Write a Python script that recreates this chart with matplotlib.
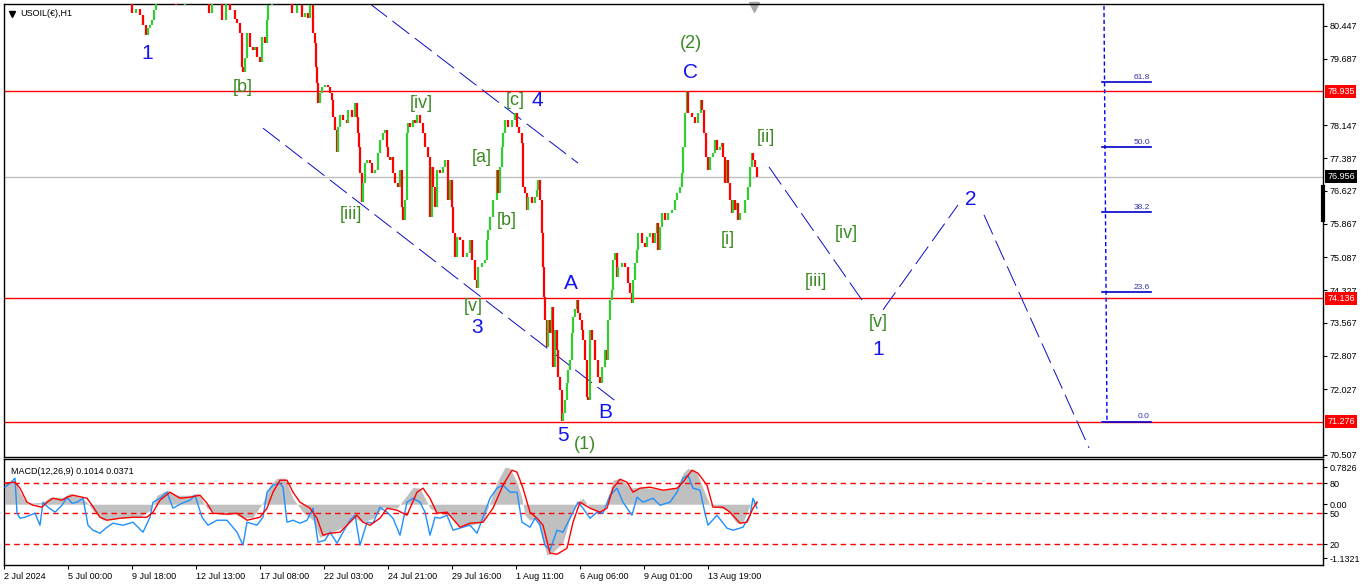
import matplotlib.pyplot as plt
import numpy as np

# ---- price path (H1 bar index, close) ----
bars = [128, 132, 136, 140, 143, 146, 148, 150, 152, 154, 156, 165, 176, 185, 195, 203, 209,
        212, 218, 222, 226, 230, 233, 235, 237, 240, 242, 243, 245, 247, 250, 253, 255, 257, 260,
        262, 265, 267, 268, 272, 280, 288, 292, 297, 302, 305, 308, 310, 313, 315, 316, 317, 318,
        320, 322, 325, 328, 330, 332, 333, 335, 337, 338, 340, 343, 347, 348, 352, 355, 357, 358,
        359, 360, 362, 363, 365, 367, 370, 372, 375, 378, 380, 383, 385, 387, 388, 390, 392, 393,
        395, 398, 400, 402, 403, 405, 407, 408, 410, 413, 415, 417, 420, 423, 425, 428, 430, 432,
        433, 435, 437, 440, 443, 445, 448, 450, 452, 453, 455, 457, 460, 463, 467, 470, 472, 475,
        477, 478, 482, 485, 487, 488, 490, 493, 497, 498, 500, 502, 503, 505, 508, 512, 515, 517,
        519, 522, 523, 525, 527, 528, 532, 535, 537, 538, 540, 542, 543, 544, 545, 547, 548, 550,
        552, 553, 555, 557, 558, 560, 562, 563, 565, 567, 568, 570, 572, 573, 575, 577, 578, 580,
        582, 583, 585, 587, 588, 590, 592, 595, 598, 600, 602, 605, 607, 608, 610, 612, 613, 615,
        617, 618, 622, 625, 628, 630, 632, 633, 635, 637, 638, 642, 645, 647, 650, 653, 655, 657,
        658, 660, 662, 665, 668, 672, 675, 677, 680, 682, 683, 685, 687, 688, 692, 695, 698, 701,
        702, 704, 706, 708, 710, 713, 715, 717, 720, 722, 723, 725, 727, 728, 730, 732, 733, 735,
        737, 738, 740, 742, 745, 748, 750, 752, 753, 755, 757]
closes = [81.20, 80.75, 80.85, 80.70, 80.47, 80.24, 80.40, 80.47, 80.59, 80.82, 81.10, 81.30, 80.93,
          81.20, 81.15, 81.10, 80.75,
          81.00, 81.10, 80.59, 80.95, 80.82, 80.82, 80.60, 80.52, 80.28, 79.50, 79.38, 79.70, 80.28,
          79.96, 79.89, 79.95, 79.73, 79.61,
          80.19, 80.05, 80.59, 80.93, 81.20, 81.30, 81.10, 80.75, 80.93, 80.66, 80.75, 80.63, 80.93,
          80.28, 80.05, 79.50, 79.13, 78.66,
          78.89, 79.03, 79.08, 79.03, 78.89, 78.73, 78.34, 78.04, 77.53, 78.11, 78.38, 78.27, 78.20,
          78.50, 78.34, 78.66, 78.34, 77.97,
          77.64, 77.04, 76.37, 76.81, 77.27, 77.34, 77.27, 77.04, 77.11, 77.50, 77.81, 77.97, 78.04,
          77.64, 77.41, 77.34, 77.41, 77.04,
          76.81, 76.72, 77.11, 76.25, 75.95, 76.42, 77.97, 78.20, 78.11, 78.27, 78.20, 78.38, 78.20,
          77.97, 77.64, 77.41, 76.02, 77.18,
          76.72, 76.25, 77.11, 77.04, 77.18, 77.34, 76.42, 76.88, 76.25, 75.65, 75.09, 75.56, 75.49,
          75.09, 75.19, 75.49, 75.03, 74.56,
          74.38, 74.86, 74.96, 75.03, 75.49, 75.72, 76.02, 76.42, 77.11, 76.58, 77.18, 77.64, 77.97,
          78.27, 78.11, 78.27, 78.43, 78.11,
          77.97, 77.74, 76.72, 76.58, 76.18, 76.48, 76.35, 76.48, 76.65, 76.88, 76.42, 75.65, 74.86,
          74.17, 73.64, 73.01, 73.64, 73.33,
          73.94, 72.55, 73.40, 72.94, 72.31, 72.01, 71.30, 71.48, 71.78, 72.18, 72.48, 72.71, 73.33,
          73.70, 73.90, 74.10, 73.80, 73.64,
          73.40, 73.17, 72.71, 71.85, 71.78, 73.40, 73.17, 72.71, 72.31, 72.18, 72.55, 72.94, 72.71,
          73.64, 74.10, 74.33, 75.03, 75.19,
          74.63, 74.86, 74.96, 74.86, 74.49, 74.26, 74.03, 74.56, 74.96, 75.26, 75.65, 75.42, 75.33,
          75.56, 75.65, 75.42, 75.65, 75.88,
          75.26, 75.79, 76.11, 75.95, 76.11, 76.18, 76.42, 76.58, 76.72, 77.04, 77.64, 78.43, 78.94,
          78.43, 78.34, 78.20, 78.43, 78.73,
          78.50, 77.97, 77.41, 77.11, 77.41, 77.50, 77.81, 77.57, 77.64, 77.74, 77.41, 76.81, 77.34,
          76.81, 76.42, 76.11, 76.42, 76.18,
          76.35, 75.95, 76.11, 76.11, 76.42, 76.72, 77.18, 77.50, 77.34, 77.18, 76.956]

# ---- MACD panel values ----
hist_x = [5, 15, 20, 27, 43, 50, 63, 70, 80, 87, 95, 103, 120, 140, 150, 157, 167, 177, 190, 198,
          207, 217, 233, 243, 253, 263, 270, 277, 285, 293, 303, 313, 320, 330, 343, 353, 363, 373,
          383, 397, 407, 413, 420, 430, 440, 450, 458, 470, 483, 490, 497, 505, 510, 517, 522, 525,
          530, 537, 542, 547, 553, 563, 570, 577, 583, 590, 600, 607, 613, 620, 630, 637, 650, 663,
          677, 683, 688, 697, 703, 710, 717, 727, 737, 743, 750, 757]
hist_vals = [0.463, 0.505, 0.253, 0.021, 0.042, 0.147, 0.147, 0.232, 0.147, 0.042, -0.189, -0.337,
             -0.295, -0.274, -0.126, 0.189, 0.295, 0.189, 0.189, 0.232, -0.084, -0.189, -0.189,
             -0.295, -0.274, 0.042, 0.400, 0.547, 0.547, 0.126, -0.168, -0.337, -0.695, -0.611,
             -0.484, -0.274, -0.379, -0.295, -0.063, -0.084, 0.189, 0.358, 0.337, -0.084, -0.189,
             -0.232, -0.442, -0.442, -0.379, 0.042, 0.463, 0.779, 0.758, 0.463, 0.126, -0.232,
             -0.337, -0.295, -0.716, -1.074, -1.010, -0.800, -0.295, 0.042, 0.126, -0.084, -0.189,
             0.042, 0.505, 0.547, 0.337, 0.358, 0.337, 0.295, 0.358, 0.653, 0.758, 0.653, 0.337,
             -0.021, -0.063, -0.126, -0.400, -0.379, -0.021, 0.101]

sig_x = [5, 15, 20, 27, 33, 42, 47, 53, 62, 67, 73, 87, 92, 100, 107, 120, 133, 147, 153, 160, 170,
         180, 190, 200, 207, 213, 227, 237, 247, 260, 267, 273, 280, 287, 293, 300, 310, 317, 323,
         330, 340, 350, 357, 363, 370, 380, 387, 397, 407, 417, 423, 430, 437, 447, 460, 470, 483,
         493, 503, 512, 517, 523, 530, 537, 543, 550, 557, 567, 573, 580, 590, 600, 607, 613, 620,
         627, 633, 640, 650, 663, 677, 683, 692, 698, 707, 713, 723, 730, 740, 747, 753, 757]
sig_vals = [0.442, 0.463, 0.337, 0.042, -0.021, -0.063, 0.042, 0.126, 0.084, 0.147, 0.189, 0.126,
            -0.021, -0.274, -0.337, -0.295, -0.274, -0.274, -0.168, 0.084, 0.253, 0.126, 0.147,
            0.189, 0.021, -0.189, -0.211, -0.189, -0.337, -0.274, -0.084, 0.253, 0.505, 0.505,
            0.253, 0.042, -0.084, -0.295, -0.653, -0.611, -0.589, -0.379, -0.232, -0.379, -0.442,
            -0.295, -0.084, -0.126, -0.232, 0.253, 0.337, 0.126, -0.189, -0.168, -0.484, -0.400,
            -0.379, -0.084, 0.400, 0.716, 0.674, 0.337, -0.168, -0.295, -0.442, -1.031, -1.053,
            -0.926, -0.379, 0.042, -0.084, -0.168, -0.084, 0.337, 0.526, 0.463, 0.253, 0.337,
            0.358, 0.295, 0.337, 0.463, 0.716, 0.653, 0.400, -0.063, -0.063, -0.168, -0.400,
            -0.379, -0.084, 0.037]

fast_x = [5, 10, 15, 17, 20, 25, 30, 35, 40, 43, 48, 55, 62, 67, 72, 77, 83, 88, 93, 100, 107, 113,
          123, 133, 143, 150, 153, 160, 167, 173, 182, 190, 195, 202, 208, 217, 227, 237, 243, 247,
          257, 263, 267, 273, 280, 283, 287, 293, 300, 307, 313, 318, 325, 330, 337, 343, 350, 355,
          360, 367, 373, 380, 387, 393, 400, 407, 413, 420, 425, 430, 435, 440, 447, 453, 463, 470,
          477, 483, 490, 497, 503, 510, 517, 522, 530, 535, 540, 545, 550, 557, 563, 570, 578, 583,
          590, 597, 603, 610, 617, 623, 632, 637, 643, 653, 660, 670, 677, 683, 688, 693, 700, 705,
          708, 717, 727, 733, 743, 750, 753, 757]
fast_vals = [0.358, 0.442, 0.547, -0.189, -0.295, -0.274, -0.232, -0.189, -0.442, 0.042, -0.063,
             -0.168, -0.021, 0.147, 0.021, 0.042, 0.126, -0.442, -0.547, -0.611, -0.484, -0.400,
             -0.442, -0.379, -0.589, -0.274, 0.042, 0.126, 0.253, -0.084, 0.021, 0.084, 0.189,
             -0.274, -0.442, -0.337, -0.337, -0.589, -0.863, -0.379, -0.442, -0.274, 0.253, 0.400,
             0.442, 0.358, -0.379, -0.337, -0.400, -0.337, -0.084, -0.800, -0.758, -0.589, -0.821,
             -0.589, -0.337, -0.232, -0.863, -0.379, -0.400, -0.063, -0.168, -0.295, -0.653, 0.042,
             0.126, 0.042, -0.168, -0.653, -0.274, -0.295, -0.232, -0.547, -0.484, -0.442, -0.611,
             -0.274, 0.126, 0.337, 0.400, 0.253, 0.253, -0.379, -0.484, -0.295, -0.442, -0.863,
             -0.968, -0.547, -0.589, -0.295, 0.042, -0.084, -0.295, -0.168, -0.189, 0.189, 0.337,
             0.042, -0.232, 0.147, 0.042, 0.126, -0.021, 0.042, 0.253, 0.547, 0.611, 0.337, 0.295,
             -0.189, -0.442, -0.232, -0.505, -0.547, -0.484, -0.232, 0.126, -0.084]

macd_levels = [0.446, -0.189, -0.838]
macd_level_names = ["80", "50", "20"]
macd_ticks = [0.7826, 0.0, -1.1321]
macd_tick_names = ["0.7826", "0.00", "-1.1321"]

# ---- levels, tick labels, annotations ----
red_levels = [78.935, 74.136, 71.276]
last_price = 76.956
price_ticks = ["80.447", "79.687", "78.147", "77.387", "76.627", "75.867", "75.087",
               "74.327", "73.567", "72.807", "72.027", "70.507"]
date_labels = ["2 Jul 2024", "5 Jul 00:00", "9 Jul 18:00", "12 Jul 13:00", "17 Jul 08:00",
               "22 Jul 03:00", "24 Jul 21:00", "29 Jul 16:00", "1 Aug 11:00", "6 Aug 06:00",
               "9 Aug 01:00", "13 Aug 19:00"]
bars_per_label = 64

fib_low, fib_high = 71.276, 84.0
fib_ratios = [0.0, 23.6, 38.2, 50.0, 61.8]

# trend / projection lines: (bar0, price0, bar1, price1)
channel_lines = [(370, 80.96, 578, 77.27), (263, 78.08, 617, 71.73)]
projection_lines = [(769, 77.18, 864, 74.03), (883, 73.87, 958, 76.30), (984, 76.07, 1089, 70.67)]

blue_labels = [("1", 147, 79.82), ("3", 477, 73.45), ("4", 537, 78.73), ("5", 563, 70.95),
               ("A", 571, 74.47), ("B", 605, 71.48), ("C", 691, 79.38), ("1", 878, 72.94),
               ("2", 971, 76.42)]
green_labels = [("[b]", 243, 79.01), ("[iv]", 421, 78.66), ("[c]", 515, 78.73), ("[a]", 482, 77.41),
                ("[iii]", 351, 76.09), ("[b]", 507, 75.93), ("[v]", 473, 73.94), ("(2)", 691, 80.05),
                ("(1)", 585, 70.74), ("[ii]", 766, 77.87), ("[i]", 728, 75.49), ("[iv]", 846, 75.65),
                ("[iii]", 816, 74.52), ("[v]", 878, 73.57)]

UP = '#32CD32'
DOWN = '#FF0000'
BLUE_TXT = '#1414F0'
GREEN_TXT = '#3A8A22'
LINE_BLUE = '#0A0AC8'

plt.rcParams['font.family'] = ['Liberation Sans', 'DejaVu Sans']

fig = plt.figure(figsize=(13.66, 5.88), dpi=100)
W, H = 1366, 588
ax = fig.add_axes([4 / W, (H - 457) / H, 1319 / W, 453 / H])
mx = fig.add_axes([4 / W, (H - 565) / H, 1319 / W, 106 / H], sharex=ax)

# ---- main price panel ----
x = np.array(bars)
c = np.array(closes)
lo = np.minimum(c[:-1], c[1:])
hi = np.maximum(c[:-1], c[1:])
cols = [UP if b >= a else DOWN for a, b in zip(c[:-1], c[1:])]
ax.vlines(x[1:], lo, hi, colors=cols, linewidth=1.6, zorder=3)

for lv in red_levels:
    ax.axhline(lv, color='#FF0000', linewidth=1, zorder=2)
ax.axhline(last_price, color='#C0C0C0', linewidth=1, zorder=1)

# dashed wave / channel lines (thin, long dashes)
for x0, y0, x1, y1 in channel_lines + projection_lines:
    ax.plot([x0, x1], [y0, y1], color=LINE_BLUE, linewidth=0.7, linestyle=(0, (22, 7)), zorder=2)

# fibonacci
fib_prices = [fib_low + r / 100 * (fib_high - fib_low) for r in fib_ratios]
ax.plot([1103, 1107], [fib_high, fib_low], color='#0000FF', linewidth=1,
        linestyle=(0, (3, 2)), zorder=2)
for r, p in zip(fib_ratios, fib_prices):
    ax.plot([1102, 1151], [p, p], color='#0000CD', linewidth=1.2, zorder=3)
    ax.text(1150, p + 0.03, f"{r:.1f}", fontsize=6, color='#3030B0', ha='right', va='bottom')

for t, bx, py in blue_labels:
    ax.text(bx, py, t, fontsize=15, color=BLUE_TXT, ha='center', va='center', zorder=5)
for t, bx, py in green_labels:
    ax.text(bx, py, t, fontsize=13, color=GREEN_TXT, ha='center', va='center', zorder=5)

ax.set_xlim(4, 1323)
ax.set_ylim(70.46, 80.956)
ax.yaxis.tick_right()
ax.set_yticks([float(t) for t in price_ticks])
ax.set_yticklabels(price_ticks)
ax.tick_params(axis='y', labelsize=6.5, length=3, pad=2, direction='out')
ax.tick_params(axis='x', bottom=False, labelbottom=False)

ytrans = ax.get_yaxis_transform()
for lv in red_levels:
    ax.annotate(f"{lv:.3f}", xy=(1, lv), xycoords=ytrans, xytext=(3, 0), textcoords='offset points',
                fontsize=6.5, color='white', ha='left', va='center', annotation_clip=False,
                bbox=dict(boxstyle='square,pad=0.2', fc='#FF0000', ec='none'), zorder=6)
ax.annotate(f"{last_price:.3f}", xy=(1, last_price), xycoords=ytrans, xytext=(3, 0),
            textcoords='offset points', fontsize=6.5, color='white', ha='left', va='center',
            annotation_clip=False, bbox=dict(boxstyle='square,pad=0.2', fc='black', ec='none'), zorder=6)
ax.plot([1, 1], [76.72, 75.95], transform=ytrans, color='black', linewidth=3, clip_on=False, zorder=6)

ax.plot([754], [0.993], marker='v', markersize=7, color='#A8A8A8',
        transform=ax.get_xaxis_transform(), clip_on=False)
ax.plot([0.006], [0.979], marker='v', markersize=4, color='black', transform=ax.transAxes)
ax.text(0.0125, 0.979, "USOIL(€),H1", transform=ax.transAxes, fontsize=6.5, va='center', ha='left')

# ---- MACD panel ----
mx.fill_between(hist_x, 0, hist_vals, color='#C0C0C0', linewidth=0, zorder=1)
mx.plot(fast_x, fast_vals, color='#1E90FF', linewidth=1, zorder=3)
mx.plot(sig_x, sig_vals, color='#FF0000', linewidth=1, zorder=4)
for lv in macd_levels:
    mx.axhline(lv, color='#FF0000', linewidth=1, linestyle=(0, (4, 3)), zorder=2)
mx.set_ylim(-1.279, 0.951)
mx.yaxis.tick_right()
mx.set_yticks(macd_ticks + macd_levels)
mx.set_yticklabels(macd_tick_names + macd_level_names)
mx.tick_params(axis='y', labelsize=6.5, length=3, pad=2)
mx.text(0.005, 0.88, "MACD(12,26,9) 0.1014 0.0371", transform=mx.transAxes, fontsize=6.5,
        va='center', ha='left')

date_pos = [4 + i * bars_per_label for i in range(len(date_labels))]
mx.set_xticks(date_pos)
mx.set_xticklabels(date_labels, ha='left')
mx.tick_params(axis='x', labelsize=6.5, length=3, pad=2)

for a in (ax, mx):
    for s in a.spines.values():
        s.set_color('black')
        s.set_linewidth(1)

plt.savefig('out.png', dpi=100)
